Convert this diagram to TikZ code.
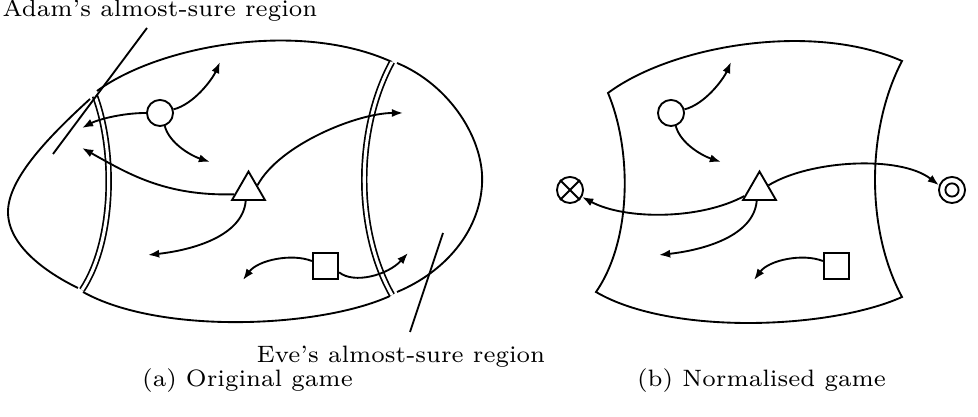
\documentclass[tikz,border=0pt]{standalone}
\usetikzlibrary{arrows.meta,shapes.geometric}
\begin{document}
\begin{tikzpicture}[x=0.295pt,y=-0.295pt,
  region/.style={line width=0.55pt},
  dbl/.style={line width=0.5pt,double,double distance=0.9pt},
  arr/.style={line width=0.55pt,-{Latex[length=3.3pt,width=2.4pt]}},
  ptr/.style={line width=0.55pt},
  lbl/.style={font=\fontsize{7}{8.4}\selectfont,inner sep=0pt},
  circ/.style={circle,draw,line width=0.55pt,inner sep=0pt,minimum size=7.7pt},
  tri/.style={regular polygon,regular polygon sides=3,draw,line width=0.55pt,inner sep=0pt,minimum size=11.2pt},
  sq/.style={rectangle,draw,line width=0.55pt,inner sep=0pt,minimum size=7.5pt}]
\useasboundingbox (0,0) rectangle (978,417);

% ---------- (a) original game ----------
% middle region
\draw[region] (97,91) .. controls (160,45) and (300,20) .. (392,62);
\draw[region] (390,296) .. controls (320,328) and (160,335) .. (83,292);
\draw[dbl] (95,96) .. controls (115,150) and (115,240) .. (82,290);
\draw[dbl] (392,62) .. controls (355,130) and (355,230) .. (392,295);
% Adam's region
\draw[region] (90,99) .. controls (45,140) and (8,180) .. (8,212)
  .. controls (8,245) and (45,272) .. (78,288);
% Eve's region
\draw[region] (397,63) .. controls (450,85) and (485,140) .. (482,185)
  .. controls (479,232) and (445,272) .. (397,292);

% pointers and labels
\node[lbl,anchor=base west] (adam) at (2,17) {Adam's almost-sure region};
\node[lbl,anchor=base west] (eve) at (256,363) {Eve's almost-sure region};
\coordinate (adamA) at (147,28);
\coordinate (adamB) at (53,154);
\coordinate (eveA) at (443,233);
\coordinate (eveB) at (410,332);
\draw[ptr] (adamA) -- (adamB);
\draw[ptr] (eveA) -- (eveB);

% states
\node[circ] (c1) at (160,113) {};
\node[tri] (t1) at (248.5,190.5) {};
\node[sq] (s1) at (325.5,266) {};

% targets
\coordinate (a1) at (220,62);
\coordinate (a2) at (210,162);
\coordinate (a3) at (82,128);
\coordinate (a4) at (82,148);
\coordinate (a5) at (403,113);
\coordinate (a6) at (148,255);
\coordinate (a7) at (243,280);
\coordinate (a8) at (408,253);

\draw[arr] (c1.15) .. controls +(20,-5) and +(-8,18) .. (a1);
\draw[arr] (c1.-70) .. controls +(5,18) and +(-18,-6) .. (a2);
\draw[arr] (c1.west) .. controls +(-25,0) and +(15,-8) .. (a3);
\draw[arr] (t1.195) .. controls +(-70,2) and +(45,25) .. (a4);
\draw[arr] (t1.30) .. controls +(22,-41) and +(-45,0) .. (a5);
\draw[arr] (t1.-105) .. controls +(-3,35) and +(45,-5) .. (a6);
\draw[arr] (s1.160) .. controls +(-20,-8) and +(15,-20) .. (a7);
\draw[arr] (s1.-25) .. controls +(15,12) and +(-20,22) .. (a8);

\node[lbl,anchor=base] (capa) at (247.5,387) {(a) Original game};

% ---------- (b) normalised game ----------
\draw[region] (608,93) .. controls (671,46) and (811,21) .. (902,61)
  .. controls (866,130) and (866,230) .. (902,297)
  .. controls (831,329) and (671,336) .. (596,292)
  .. controls (632,240) and (632,150) .. (608,93) -- cycle;

\node[circ] (c2) at (671,113) {};
\node[tri] (t2) at (759.5,190.5) {};
\node[sq] (s2) at (836.5,266) {};
\node[circ] (x1) at (570,190) {};
\draw[line width=0.55pt] (x1.north west) -- (x1.south east);
\draw[line width=0.55pt] (x1.north east) -- (x1.south west);
\node[circ] (o1) at (952,190) {};
\node[circ,minimum size=3.9pt] (o2) at (952,190) {};

\coordinate (b1) at (731,62);
\coordinate (b2) at (721,162);
\coordinate (b6) at (659,255);
\coordinate (b7) at (754,280);

\draw[arr] (c2.15) .. controls +(20,-5) and +(-8,18) .. (b1);
\draw[arr] (c2.-70) .. controls +(5,18) and +(-18,-6) .. (b2);
\draw[arr] (t2.-105) .. controls +(-3,35) and +(45,-5) .. (b6);
\draw[arr] (s2.160) .. controls +(-20,-8) and +(15,-20) .. (b7);
\draw[arr] (t2.200) .. controls (700,220) and (625,220) .. (x1.-30);
\draw[arr] (t2.30) .. controls (810,160) and (900,155) .. (o1.160);

\node[lbl,anchor=base] (capb) at (761.5,387) {(b) Normalised game};
\end{tikzpicture}
\end{document}
